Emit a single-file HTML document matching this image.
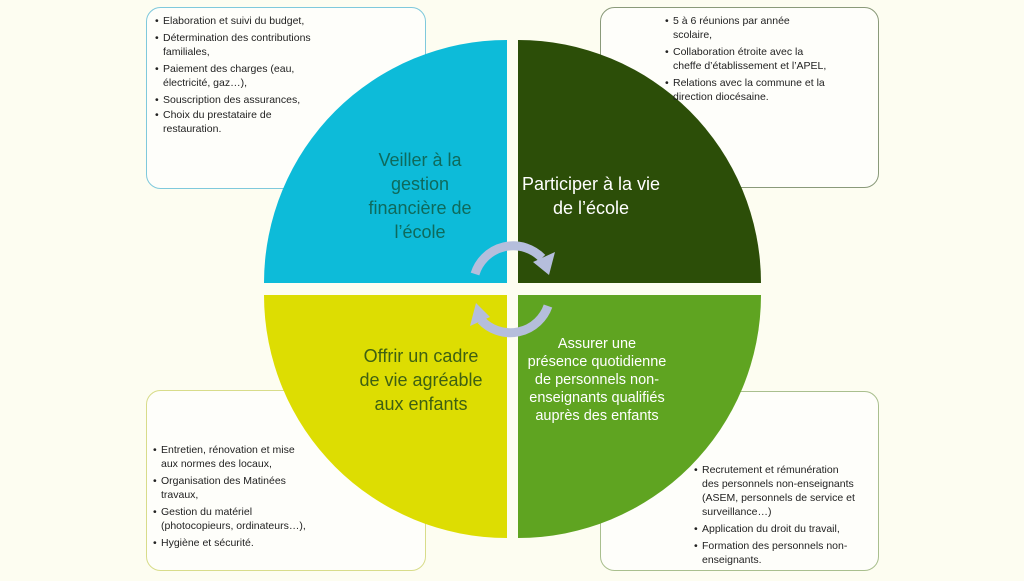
<!DOCTYPE html>
<html><head><meta charset="utf-8"><style>
html,body{margin:0;padding:0;}
body{width:1024px;height:576px;background:#fdfdf1;overflow:hidden;font-family:"Liberation Sans",sans-serif;}
</style></head><body>
<svg width="1024" height="576" viewBox="0 0 1024 576" xmlns="http://www.w3.org/2000/svg" font-family="Liberation Sans, sans-serif">
<rect width="1024" height="576" fill="#fdfdf1"/>
<rect x="146.5" y="7.5" width="279" height="181" rx="14" fill="#fefefa" stroke="#7fc9dc" stroke-width="1"/>
<rect x="600.5" y="7.5" width="278" height="180" rx="14" fill="#fefefa" stroke="#8a9a7a" stroke-width="1"/>
<rect x="146.5" y="390.5" width="279" height="180" rx="14" fill="#fefefa" stroke="#d8dc8a" stroke-width="1"/>
<rect x="600.5" y="391.5" width="278" height="179" rx="14" fill="#fefefa" stroke="#a9bf8e" stroke-width="1"/>
<path d="M507,283 H264 A243,243 0 0 1 507,40 Z" fill="#0dbbd9"/>
<path d="M518,283 V40 A243,243 0 0 1 761,283 Z" fill="#2c4e08"/>
<path d="M507,295 H264 A243,243 0 0 0 507,538 Z" fill="#dddd02"/>
<path d="M518,295 V538 A243,243 0 0 0 761,295 Z" fill="#5fa421"/>
<!-- arrows -->
<path d="M475,274 A40,40 0 0 1 542,258" fill="none" stroke="#b5bedc" stroke-width="9"/>
<polygon points="533,262 555,252 549,275" fill="#b5bedc"/>
<path d="M548,306 A40,40 0 0 1 481,320" fill="none" stroke="#b5bedc" stroke-width="9"/>
<polygon points="490,317 470,326 476,303" fill="#b5bedc"/>
<g font-size="18" text-anchor="middle" fill="#0e6a5c">
<text x="420" y="166">Veiller à la</text>
<text x="420" y="190">gestion</text>
<text x="420" y="214">financière de</text>
<text x="420" y="238">l’école</text>
</g>
<g font-size="18" text-anchor="middle" fill="#ffffff">
<text x="591" y="190">Participer à la vie</text>
<text x="591" y="214">de l’école</text>
</g>
<g font-size="18" text-anchor="middle" fill="#3e6012">
<text x="421" y="362">Offrir un cadre</text>
<text x="421" y="386">de vie agréable</text>
<text x="421" y="410">aux enfants</text>
</g>
<g font-size="14.5" text-anchor="middle" fill="#ffffff">
<text x="597" y="348">Assurer une</text>
<text x="597" y="366">présence quotidienne</text>
<text x="597" y="384">de personnels non-</text>
<text x="597" y="402">enseignants qualifiés</text>
<text x="597" y="420">auprès des enfants</text>
</g>
<g font-size="10.5" fill="#222">
<text x="155" y="24">•</text><text x="163" y="24">Elaboration et suivi du budget,</text>
<text x="155" y="41">•</text><text x="163" y="41">Détermination des contributions</text>
<text x="163" y="55">familiales,</text>
<text x="155" y="72">•</text><text x="163" y="72">Paiement des charges (eau,</text>
<text x="163" y="86">électricité, gaz…),</text>
<text x="155" y="103">•</text><text x="163" y="103">Souscription des assurances,</text>
<text x="155" y="118">•</text><text x="163" y="118">Choix du prestataire de</text>
<text x="163" y="132">restauration.</text>

<text x="665" y="24">•</text><text x="673" y="24">5 à 6 réunions par année</text>
<text x="673" y="38">scolaire,</text>
<text x="665" y="55">•</text><text x="673" y="55">Collaboration étroite avec la</text>
<text x="673" y="69">cheffe d’établissement et l’APEL,</text>
<text x="665" y="86">•</text><text x="673" y="86">Relations avec la commune et la</text>
<text x="673" y="100">direction diocésaine.</text>

<text x="153" y="453">•</text><text x="161" y="453">Entretien, rénovation et mise</text>
<text x="161" y="467">aux normes des locaux,</text>
<text x="153" y="484">•</text><text x="161" y="484">Organisation des Matinées</text>
<text x="161" y="498">travaux,</text>
<text x="153" y="515">•</text><text x="161" y="515">Gestion du matériel</text>
<text x="161" y="529">(photocopieurs, ordinateurs…),</text>
<text x="153" y="546">•</text><text x="161" y="546">Hygiène et sécurité.</text>

<text x="694" y="473">•</text><text x="702" y="473">Recrutement et rémunération</text>
<text x="702" y="487">des personnels non-enseignants</text>
<text x="702" y="501">(ASEM, personnels de service et</text>
<text x="702" y="515">surveillance…)</text>
<text x="694" y="532">•</text><text x="702" y="532">Application du droit du travail,</text>
<text x="694" y="549">•</text><text x="702" y="549">Formation des personnels non-</text>
<text x="702" y="563">enseignants.</text>
</g>
</svg>
</body></html>
